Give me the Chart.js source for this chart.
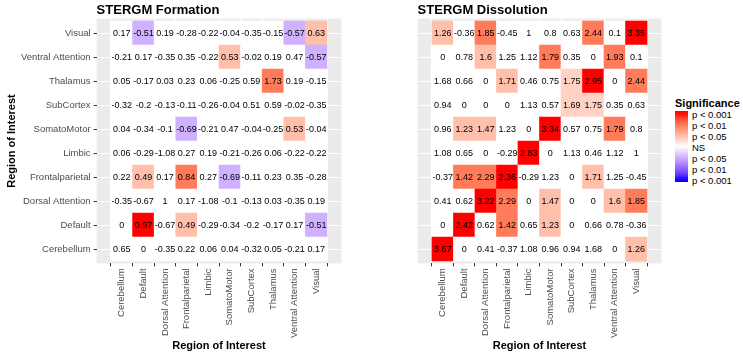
<!DOCTYPE html>
<html lang="en">
<head>
    <meta charset="UTF-8">
    <title>STERGM Formation / Dissolution</title>
    <script src="https://cdn.jsdelivr.net/npm/chart.js"></script>
    <style>
        body { margin: 0; background: #fff; width: 743px; height: 357px; position: relative; overflow: hidden;
               font-family: "Liberation Sans", Arial, sans-serif; }
        canvas { position: absolute; top: 0; }
        #formation { left: 0; }
        #dissolution { left: 410px; }
        #legend-title { position: absolute; left: 675px; top: 97px; font-size: 11px; line-height: 13px; font-weight: bold; }
        #legend-bar { position: absolute; left: 675px; top: 111px; width: 13px; height: 71px; }
        .legend-label { position: absolute; left: 692px; font-size: 9.5px; line-height: 11px; color: #000; white-space: nowrap; }
    </style>
</head>
<body>
<canvas id="formation" width="345" height="357"></canvas>
<canvas id="dissolution" width="255" height="357"></canvas>
<div id="legend-title">Significance</div>
<div id="legend-bar"></div>
<div id="legend-labels"></div>
<script>
    const regions = ['Cerebellum', 'Default', 'Dorsal Attention', 'Frontalparietal', 'Limbic',
        'SomatoMotor', 'SubCortex', 'Thalamus', 'Ventral Attention', 'Visual'];

    // rows go from the bottom (Cerebellum) up to the top (Visual), columns in the same order
    const formationValues = [
        [0.65, 0, -0.35, 0.22, 0.06, 0.04, -0.32, 0.05, -0.21, 0.17],
        [0, 0.97, -0.67, 0.49, -0.29, -0.34, -0.2, -0.17, 0.17, -0.51],
        [-0.35, -0.67, 1, 0.17, -1.08, -0.1, -0.13, 0.03, -0.35, 0.19],
        [0.22, 0.49, 0.17, 0.84, 0.27, -0.69, -0.11, 0.23, 0.35, -0.28],
        [0.06, -0.29, -1.08, 0.27, 0.19, -0.21, -0.26, 0.06, -0.22, -0.22],
        [0.04, -0.34, -0.1, -0.69, -0.21, 0.47, -0.04, -0.25, 0.53, -0.04],
        [-0.32, -0.2, -0.13, -0.11, -0.26, -0.04, 0.51, 0.59, -0.02, -0.35],
        [0.05, -0.17, 0.03, 0.23, 0.06, -0.25, 0.59, 1.73, 0.19, -0.15],
        [-0.21, 0.17, -0.35, 0.35, -0.22, 0.53, -0.02, 0.19, 0.47, -0.57],
        [0.17, -0.51, 0.19, -0.28, -0.22, -0.04, -0.35, -0.15, -0.57, 0.63]
    ];

    // signed significance level: 0 = NS, 1 ~ p<0.05, 2 ~ p<0.01, 3 ~ p<0.001 (negative = lower)
    const formationSig = [
        [0, 0, 0, 0, 0, 0, 0, 0, 0, 0],
        [0, 3, 0, 1, 0, 0, 0, 0, 0, -1],
        [0, 0, 0, 0, 0, 0, 0, 0, 0, 0],
        [0, 1, 0, 2, 0, -1, 0, 0, 0, 0],
        [0, 0, 0, 0, 0, 0, 0, 0, 0, 0],
        [0, 0, 0, -1, 0, 0, 0, 0, 1, 0],
        [0, 0, 0, 0, 0, 0, 0, 0, 0, 0],
        [0, 0, 0, 0, 0, 0, 0, 2, 0, 0],
        [0, 0, 0, 0, 0, 1, 0, 0, 0, -1],
        [0, -1, 0, 0, 0, 0, 0, 0, -1, 1]
    ];

    const dissolutionValues = [
        [3.67, 0, 0.41, -0.37, 1.08, 0.96, 0.94, 1.68, 0, 1.26],
        [0, 2.42, 0.62, 1.42, 0.65, 1.23, 0, 0.66, 0.78, -0.36],
        [0.41, 0.62, 3.22, 2.29, 0, 1.47, 0, 0, 1.6, 1.85],
        [-0.37, 1.42, 2.29, 2.36, -0.29, 1.23, 0, 1.71, 1.25, -0.45],
        [1.08, 0.65, 0, -0.29, 2.83, 0, 1.13, 0.46, 1.12, 1],
        [0.96, 1.23, 1.47, 1.23, 0, 3.34, 0.57, 0.75, 1.79, 0.8],
        [0.94, 0, 0, 0, 1.13, 0.57, 1.69, 1.75, 0.35, 0.63],
        [1.68, 0.66, 0, 1.71, 0.46, 0.75, 1.75, 2.95, 0, 2.44],
        [0, 0.78, 1.6, 1.25, 1.12, 1.79, 0.35, 0, 1.93, 0.1],
        [1.26, -0.36, 1.85, -0.45, 1, 0.8, 0.63, 2.44, 0.1, 3.35]
    ];

    const dissolutionSig = [
        [3, 0, 0, 0, 0, 0, 0, 0, 0, 1],
        [0, 3, 0, 2, 0, 1, 0, 0, 0, 0],
        [0, 0, 3, 2, 0, 1, 0, 0, 1, 2],
        [0, 2, 2, 3, 0, 0, 0, 1, 0, 0],
        [0, 0, 0, 0, 3, 0, 0, 0, 0, 0],
        [0, 1, 1, 0, 0, 3, 0, 0, 2, 0],
        [0, 0, 0, 0, 0, 0, 0.7, 0.7, 0, 0],
        [0, 0, 0, 1, 0, 0, 0.7, 3, 0, 2],
        [0, 0, 1, 0, 0, 2, 0, 0, 2, 0],
        [1, 0, 2, 0, 0, 0, 0, 2, 0, 3]
    ];

    const legendLabels = ['p < 0.001', 'p < 0.01', 'p < 0.05', 'NS', 'p < 0.05', 'p < 0.01', 'p < 0.001'];

    const FONT = '"Liberation Sans", Arial, sans-serif';

    // gradient red - white - blue, interpolated in Lab like ggplot does
    function toLin(c) { c /= 255; return c <= 0.04045 ? c / 12.92 : Math.pow((c + 0.055) / 1.055, 2.4); }
    function toSrgb(c) {
        c = Math.max(0, Math.min(1, c));
        return Math.round(255 * (c <= 0.0031308 ? 12.92 * c : 1.055 * Math.pow(c, 1 / 2.4) - 0.055));
    }
    function rgbToLab(rgb) {
        const [r, g, b] = rgb.map(toLin);
        const x = (0.4124 * r + 0.3576 * g + 0.1805 * b) / 0.95047;
        const y = 0.2126 * r + 0.7152 * g + 0.0722 * b;
        const z = (0.0193 * r + 0.1192 * g + 0.9505 * b) / 1.08883;
        const f = v => v > 0.008856 ? Math.cbrt(v) : 7.787 * v + 16 / 116;
        return [116 * f(y) - 16, 500 * (f(x) - f(y)), 200 * (f(y) - f(z))];
    }
    function labToRgb(lab) {
        const fy = (lab[0] + 16) / 116, fx = fy + lab[1] / 500, fz = fy - lab[2] / 200;
        const inv = t => t > 0.206893 ? t * t * t : (t - 16 / 116) / 7.787;
        const x = 0.95047 * inv(fx), y = inv(fy), z = 1.08883 * inv(fz);
        const r = 3.2406 * x - 1.5372 * y - 0.4986 * z;
        const g = -0.9689 * x + 1.8758 * y + 0.0415 * z;
        const b = 0.0557 * x - 0.2040 * y + 1.0570 * z;
        return 'rgb(' + toSrgb(r) + ',' + toSrgb(g) + ',' + toSrgb(b) + ')';
    }
    const WHITE = rgbToLab([255, 255, 255]);
    const RED = rgbToLab([255, 0, 0]);
    const BLUE = rgbToLab([0, 0, 255]);

    function sigColor(level) {
        const t = Math.min(Math.abs(level) / 3, 1);
        const end = level < 0 ? BLUE : RED;
        return labToRgb(WHITE.map((w, i) => w + (end[i] - w) * t));
    }

    const panelBackground = {
        id: 'panelBackground',
        beforeDraw(chart) {
            const {ctx, chartArea} = chart;
            ctx.save();
            ctx.fillStyle = '#EBEBEB';
            ctx.fillRect(chartArea.left, chartArea.top, chartArea.width, chartArea.height);
            ctx.restore();
        }
    };

    const cellText = {
        id: 'cellText',
        afterDatasetsDraw(chart) {
            const ctx = chart.ctx;
            ctx.save();
            ctx.font = '9px ' + FONT;
            ctx.fillStyle = '#000';
            ctx.textAlign = 'center';
            ctx.textBaseline = 'middle';
            chart.data.datasets.forEach((ds, r) => {
                chart.getDatasetMeta(r).data.forEach((bar, c) => {
                    const p = bar.getCenterPoint();
                    ctx.fillText(String(ds.cellText[c]), p.x, p.y + 0.5);
                });
            });
            ctx.restore();
        }
    };

    function heatmap(id, title, values, sig, showY) {
        return new Chart(id, {
            type: 'bar',
            data: {
                datasets: values.map((row, r) => ({
                    label: regions[r],
                    data: row.map((v, c) => ({x: c, y: [r - 0.5, r + 0.5]})),
                    cellText: row,
                    backgroundColor: sig[r].map(sigColor),
                    borderWidth: 0,
                    barPercentage: 1,
                    categoryPercentage: 1,
                    grouped: false
                }))
            },
            options: {
                responsive: false,
                animation: false,
                layout: {padding: {left: showY ? 0 : 7.6, right: 3.6, top: 0, bottom: 0}},
                plugins: {
                    legend: {display: false},
                    tooltip: {enabled: false},
                    title: {
                        display: true,
                        text: title,
                        align: 'start',
                        fullSize: false,
                        color: '#000',
                        font: {family: FONT, size: 13, weight: 'bold'},
                        padding: {top: 2.3, bottom: 0.7}
                    }
                },
                scales: {
                    x: {
                        type: 'linear',
                        min: -0.6,
                        max: 9.6,
                        afterFit: s => { s.height = 93.6; },
                        ticks: {
                            stepSize: 1,
                            includeBounds: false,
                            autoSkip: false,
                            minRotation: 90,
                            maxRotation: 90,
                            padding: 2,
                            color: '#4D4D4D',
                            font: {family: FONT, size: 9.5},
                            callback: v => regions[v]
                        },
                        grid: {color: '#fff', lineWidth: 1, tickColor: '#333', tickLength: 3},
                        border: {display: false},
                        title: {
                            display: true,
                            text: 'Region of Interest',
                            color: '#000',
                            font: {family: FONT, size: 11, weight: 'bold'},
                            padding: {top: 4, bottom: 4}
                        }
                    },
                    y: {
                        type: 'linear',
                        min: -0.6,
                        max: 9.6,
                        afterFit: s => { s.width = showY ? 96.6 : 0; },
                        ticks: {
                            display: showY,
                            stepSize: 1,
                            includeBounds: false,
                            autoSkip: false,
                            padding: 3,
                            color: '#4D4D4D',
                            font: {family: FONT, size: 9.5},
                            callback: v => regions[v]
                        },
                        grid: {color: '#fff', lineWidth: 1, tickColor: '#333', tickLength: showY ? 3 : 0, drawTicks: showY},
                        border: {display: false},
                        title: {
                            display: showY,
                            text: 'Region of Interest',
                            color: '#000',
                            font: {family: FONT, size: 11, weight: 'bold'},
                            padding: {top: 5, bottom: 4}
                        }
                    }
                }
            },
            plugins: [panelBackground, cellText]
        });
    }

    heatmap('formation', 'STERGM Formation', formationValues, formationSig, true);
    heatmap('dissolution', 'STERGM Dissolution', dissolutionValues, dissolutionSig, false);

    // colour bar legend
    const stops = [];
    for (let k = 0; k <= 20; k++) {
        stops.push(sigColor(3.27 - 6.54 * k / 20) + ' ' + (k * 5) + '%');
    }
    document.getElementById('legend-bar').style.background = 'linear-gradient(to bottom, ' + stops.join(', ') + ')';
    const labelBox = document.getElementById('legend-labels');
    legendLabels.forEach((txt, i) => {
        const el = document.createElement('div');
        el.className = 'legend-label';
        el.textContent = txt;
        el.style.top = (108.5 + i * 11) + 'px';
        labelBox.appendChild(el);
    });
</script>
</body>
</html>
